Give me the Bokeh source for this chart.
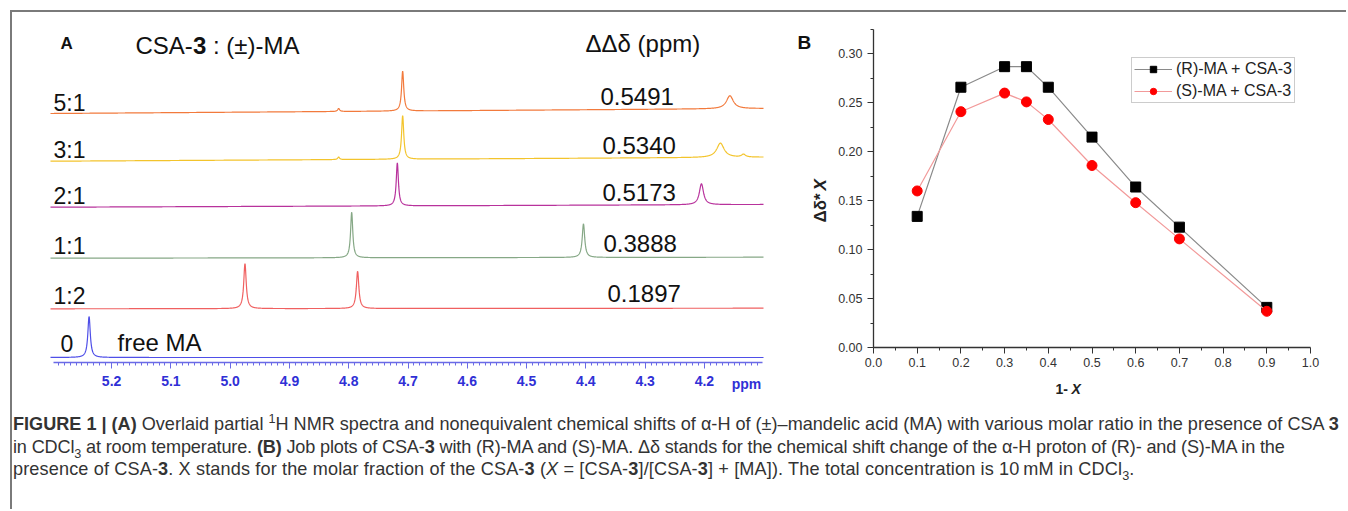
import math
import numpy as np
from bokeh.plotting import figure
from bokeh.models import (Range1d, FixedTicker, NumeralTickFormatter, Label, LinearAxis,
                          Legend, LegendItem, Div, Spacer)
from bokeh.layouts import row, column
from bokeh.embed import file_html
from bokeh.resources import INLINE

# ---------------- Panel A data (stacked 1H NMR spectra) ----------------
ratio_labels = ["5:1", "3:1", "2:1", "1:1", "1:2", "0"]
ddd_labels = ["0.5491", "0.5340", "0.5173", "0.3888", "0.1897"]
trace_colors = ["#f27a3c", "#f3c42c", "#b8329c", "#86a886", "#f06060", "#4f4fe8"]
# baseline offsets (left end, right end) of each stacked trace
baseline_left = [249.0, 201.3, 155.3, 104.3, 53.7, 5.0]
baseline_right = [254.0, 205.3, 158.0, 105.3, 54.3, 5.0]
# peaks: position (ppm), height, half width (ppm)
peak_ppm = [
    [4.709, 4.157, 4.817],
    [4.709, 4.173, 4.134, 4.817],
    [4.718, 4.205],
    [4.795, 4.404],
    [4.975, 4.785],
    [5.238],
]
peak_height = [
    [40.0, 13.0, 3.0],
    [43.7, 14.3, 2.8, 2.5],
    [43.0, 21.0],
    [45.6, 33.7],
    [45.0, 37.3],
    [41.0],
]
peak_hwhm = [
    [0.0022, 0.0070, 0.0020],
    [0.0022, 0.0075, 0.0040, 0.0020],
    [0.0022, 0.0042],
    [0.0022, 0.0025],
    [0.0025, 0.0025],
    [0.0025],
]
ppm_ticks = [5.2, 5.1, 5.0, 4.9, 4.8, 4.7, 4.6, 4.5, 4.4, 4.3, 4.2]

# ---------------- Panel B data (Job plot) ----------------
mole_fraction = [0.1, 0.2, 0.3, 0.35, 0.4, 0.5, 0.6, 0.7, 0.9]
r_ma = [0.134, 0.266, 0.287, 0.287, 0.266, 0.215, 0.164, 0.123, 0.041]
s_ma = [0.160, 0.241, 0.260, 0.251, 0.233, 0.186, 0.148, 0.111, 0.037]
x_ticks_b = [0.0, 0.1, 0.2, 0.3, 0.4, 0.5, 0.6, 0.7, 0.8, 0.9, 1.0]
y_ticks_b = [0.00, 0.05, 0.10, 0.15, 0.20, 0.25, 0.30]

FONT = "Liberation Sans"

# ======================= Panel A =======================
# figure occupies page x 12..790, y 12..402; axis span px 53..762 <-> 5.298..4.102 ppm
A_PPX = (762 - 53) / (5.298 - 4.102)          # pixels per ppm


def a_x(px):
    return 5.298 - (px - 53) / A_PPX


def a_y(py):
    return 362 - py


pA = figure(width=778, height=390,
            x_range=Range1d(a_x(12), a_x(790)), y_range=Range1d(a_y(402), a_y(12)),
            output_backend="svg", toolbar_location=None,
            x_axis_location=None, y_axis_location=None,
            min_border=0, min_border_left=0, min_border_right=0,
            min_border_top=0, min_border_bottom=0)
pA.outline_line_color = None
pA.xgrid.visible = False
pA.ygrid.visible = False

grid = np.linspace(a_x(50), a_x(763), 3000)
for i in range(len(ratio_labels)):
    frac = (grid[0] - grid) / (grid[0] - grid[-1])
    y = baseline_left[i] + (baseline_right[i] - baseline_left[i]) * frac
    for p, h, w in zip(peak_ppm[i], peak_height[i], peak_hwhm[i]):
        y = y + h / (1.0 + ((grid - p) / w) ** 2)
    pA.line(grid, y, line_color=trace_colors[i], line_width=1.2)

minor = [round(v, 2) for v in np.arange(4.11, 5.295, 0.01)]
ax = LinearAxis(fixed_location=0, bounds=(4.102, 5.298))
ax.ticker = FixedTicker(ticks=ppm_ticks, minor_ticks=minor)
ax.formatter = NumeralTickFormatter(format="0.0")
ax.axis_line_color = "#6a6ae6"
ax.axis_line_width = 1.5
ax.major_tick_line_color = "#6a6ae6"
ax.minor_tick_line_color = "#6a6ae6"
ax.major_tick_out = 6
ax.major_tick_in = 0
ax.minor_tick_out = 3
ax.minor_tick_in = 0
ax.major_label_standoff = 7
ax.major_label_text_font = FONT
ax.major_label_text_font_style = "bold"
ax.major_label_text_font_size = "14px"
ax.major_label_text_color = "#3030d6"
pA.add_layout(ax, "below")


def labA(text, px, py, size, style="normal", color="#111111", align="left"):
    pA.add_layout(Label(x=a_x(px), y=a_y(py), text=text, text_font=FONT,
                        text_font_size=size, text_font_style=style, text_color=color,
                        text_align=align, text_baseline="middle"))


labA("A", 60, 43, "17px", "bold")
labA("CSA-", 135, 45, "24px")
labA("3", 192.5, 45, "24px", "bold")
labA(": (\u00b1)-MA", 212.5, 45, "24px")
labA("\u0394\u0394\u03b4 (ppm)", 585, 43, "24px")

ratio_pos = [(53, 102), (53, 149), (53, 195), (53, 245), (53, 295), (60, 343)]
for t, (px, py) in zip(ratio_labels, ratio_pos):
    labA(t, px, py, "23px")
labA("free MA", 117, 342, "24px")

ddd_pos = [(600, 96), (602, 145), (602, 192), (603, 243), (607, 293)]
for t, (px, py) in zip(ddd_labels, ddd_pos):
    labA(t, px, py, "24px")

labA("ppm", 746, 383, "14px", "bold", "#3030d6", "center")

# ======================= Panel B =======================
# figure occupies page x 790..1338, y 12..402; x 0..1 <-> px 873..1310; y 0 <-> py 347
B_PX = 437.0
B_PY = 978.5


def b_x(px):
    return (px - 873) / B_PX


def b_y(py):
    return (347 - py) / B_PY


pB = figure(width=548, height=390,
            x_range=Range1d(b_x(790), b_x(1338)), y_range=Range1d(b_y(402), b_y(12)),
            output_backend="svg", toolbar_location=None,
            x_axis_location=None, y_axis_location=None,
            min_border=0, min_border_left=0, min_border_right=0,
            min_border_top=0, min_border_bottom=0)
pB.outline_line_color = None
pB.xgrid.visible = False
pB.ygrid.visible = False

lr = pB.line(mole_fraction, r_ma, line_color="#8a8a8a", line_width=1.2)
sr = pB.scatter(mole_fraction, r_ma, marker="square", size=10, fill_color="black", line_color="black")
ls = pB.line(mole_fraction, s_ma, line_color="#f29a9a", line_width=1.2)
ss = pB.scatter(mole_fraction, s_ma, marker="circle", size=10, fill_color="#ff0000", line_color="#ff0000")

bx = LinearAxis(fixed_location=0, bounds=(0, 1.0))
bx.ticker = FixedTicker(ticks=x_ticks_b, minor_ticks=[round(v + 0.05, 2) for v in x_ticks_b[:-1]])
bx.formatter = NumeralTickFormatter(format="0.0")
by = LinearAxis(fixed_location=0, bounds=(0, 0.325))
by.ticker = FixedTicker(ticks=y_ticks_b, minor_ticks=[round(v + 0.025, 3) for v in y_ticks_b])
by.formatter = NumeralTickFormatter(format="0.00")
for a in (bx, by):
    a.axis_line_color = "#333333"
    a.axis_line_width = 1.3
    a.major_tick_line_color = "#333333"
    a.minor_tick_line_color = "#333333"
    a.major_tick_out = 6
    a.major_tick_in = 0
    a.minor_tick_out = 3
    a.minor_tick_in = 0
    a.major_label_text_font = FONT
    a.major_label_text_font_size = "12.5px"
    a.major_label_text_color = "#333333"
bx.major_label_standoff = 4
by.major_label_standoff = 5
pB.add_layout(bx, "below")
pB.add_layout(by, "left")


def labB(text, px, py, size, style="normal", color="#222222", align="left", angle=0.0):
    pB.add_layout(Label(x=b_x(px), y=b_y(py), text=text, text_font=FONT,
                        text_font_size=size, text_font_style=style, text_color=color,
                        text_align=align, text_baseline="middle", angle=angle))


labB("B", 797, 42, "19px", "bold", "#111111")
labB("1-", 1055, 388, "14px", "bold")
labB("X", 1071, 388, "14px", "bold italic")
labB("\u0394\u03b4*", 820, 222, "17px", "bold", "#222222", "left", math.pi / 2)
labB("X", 820, 190, "17px", "bold italic", "#222222", "left", math.pi / 2)

legend = Legend(items=[LegendItem(label="(R)-MA + CSA-3", renderers=[lr, sr]),
                       LegendItem(label="(S)-MA + CSA-3", renderers=[ls, ss])],
                location=(341, 299))
legend.border_line_color = "#999999"
legend.border_line_width = 1
legend.background_fill_color = "white"
legend.label_text_font = FONT
legend.label_text_font_size = "16px"
legend.label_text_color = "#222222"
legend.glyph_width = 38
legend.glyph_height = 16
legend.label_height = 16
legend.label_standoff = 4
legend.padding = 2
legend.spacing = 4
legend.margin = 0
pB.add_layout(legend)

# ======================= Caption and frame =======================
sup = '<sup style="font-size:0.7em;line-height:0;vertical-align:super">1</sup>'
sub = '<sub style="font-size:0.7em;line-height:0;vertical-align:sub">3</sub>'
cap1 = ('<b>FIGURE 1 | (A)</b> Overlaid partial ' + sup + 'H NMR spectra and nonequivalent chemical '
        'shifts of \u03b1-H of (\u00b1)\u2013mandelic acid (MA) with various molar ratio in the '
        'presence of CSA <b>3</b>')
cap2 = ('in CDCl' + sub + ' at room temperature. <b>(B)</b> Job plots of CSA-<b>3</b> with (R)-MA and '
        '(S)-MA. \u0394\u03b4 stands for the chemical shift change of the \u03b1-H proton of (R)- and '
        '(S)-MA in the')
cap3 = ('presence of CSA-<b>3</b>. X stands for the molar fraction of the CSA-<b>3</b> '
        '(<i>X</i> = [CSA-<b>3</b>]/[CSA-<b>3</b>] + [MA]). The total concentration is '
        '10\u2009mM in CDCl' + sub + '.')
cap_html = ('<div style="font-family:\'Liberation Sans\',Arial,sans-serif;font-size:18.1px;'
            'line-height:22.5px;color:#333;white-space:nowrap;padding:11px 0 0 1px;">'
            '<div>' + cap1 + '</div>'
            '<div style="letter-spacing:-0.15px">' + cap2 + '</div>'
            '<div style="letter-spacing:0.14px">' + cap3 + '</div></div>')
caption = Div(text=cap_html, width=1334, height=105, margin=(0, 0, 0, 0))

hline = Div(text="", width=1336, height=2, margin=(0, 0, 0, 0),
            styles={"background-color": "#7a7a7a"})
vline = Div(text="", width=2, height=497, margin=(0, 0, 0, 0),
            styles={"background-color": "#7a7a7a"})

content = column(row(pA, pB), caption)
root = column(Spacer(height=10, width=10),
              row(Spacer(width=10, height=2), hline),
              row(Spacer(width=10, height=10), vline, content))

open("out.html", "w").write(file_html(root, INLINE))
